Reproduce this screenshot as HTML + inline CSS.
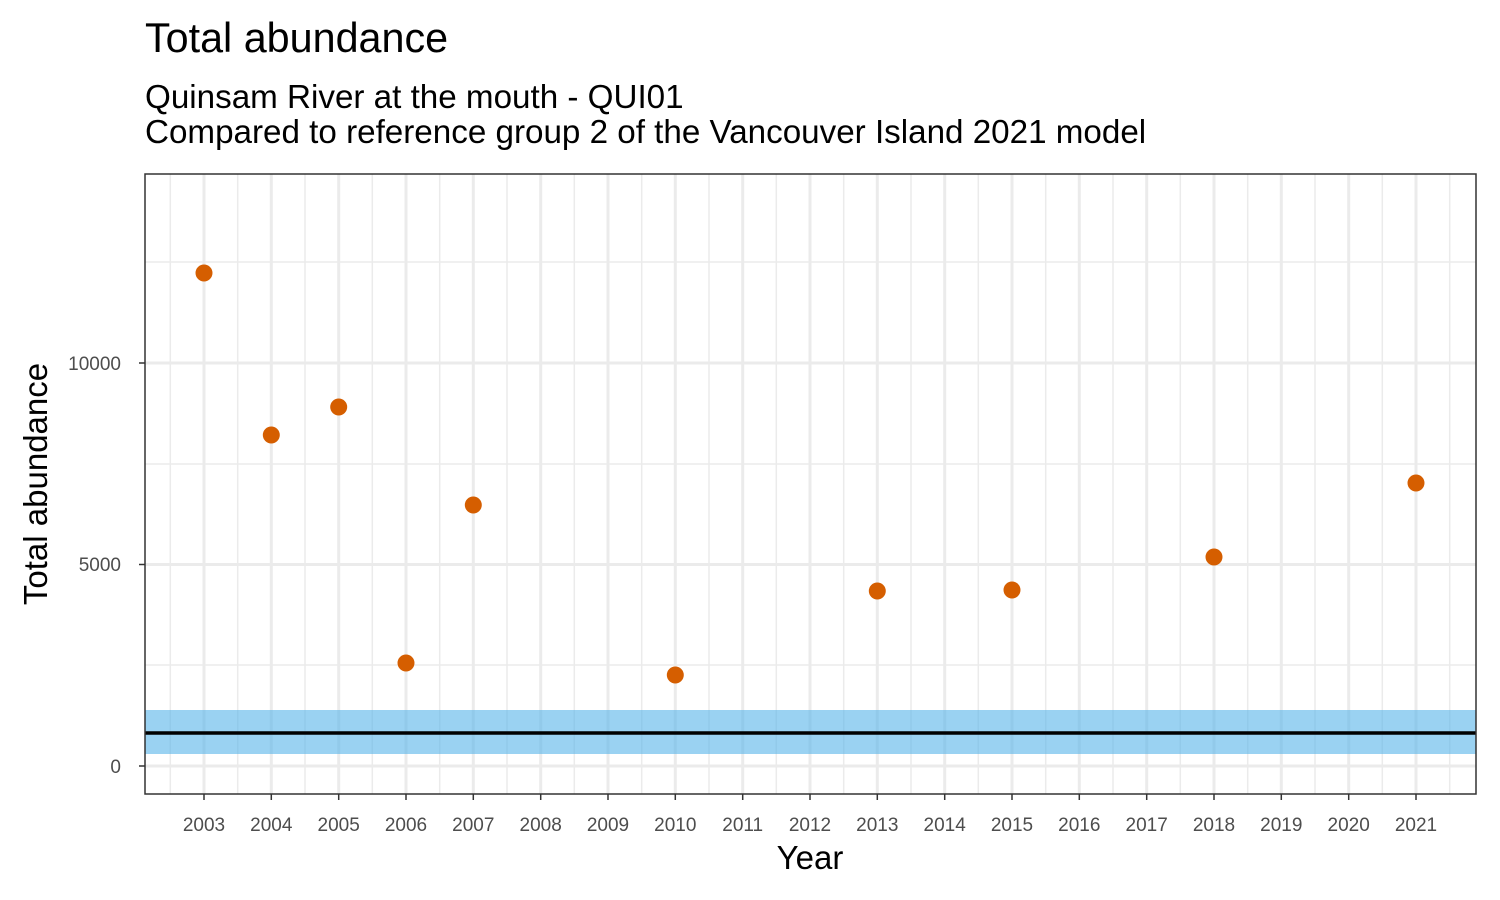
<!DOCTYPE html>
<html><head><meta charset="utf-8"><style>
body{margin:0;background:#fff;}
svg{display:block;font-family:"Liberation Sans",Arial,sans-serif;}
</style></head><body>
<svg width="1500" height="900" xmlns="http://www.w3.org/2000/svg">
<rect width="1500" height="900" fill="#fff"/>
<text x="145" y="52" font-size="41.3" fill="#000">Total abundance</text>
<text x="145" y="108" font-size="33.2" fill="#000">Quinsam River at the mouth - QUI01</text>
<text x="145" y="143" font-size="33.2" fill="#000">Compared to reference group 2 of the Vancouver Island 2021 model</text>
<g stroke="#ebebeb" stroke-width="1.5">
<line x1="145" x2="1476" y1="665" y2="665"/>
<line x1="145" x2="1476" y1="464" y2="464"/>
<line x1="145" x2="1476" y1="262" y2="262"/>
<line x1="170.3" x2="170.3" y1="174" y2="794"/><line x1="237.7" x2="237.7" y1="174" y2="794"/><line x1="305" x2="305" y1="174" y2="794"/><line x1="372.3" x2="372.3" y1="174" y2="794"/><line x1="439.7" x2="439.7" y1="174" y2="794"/><line x1="507" x2="507" y1="174" y2="794"/><line x1="574.3" x2="574.3" y1="174" y2="794"/><line x1="641.7" x2="641.7" y1="174" y2="794"/><line x1="709" x2="709" y1="174" y2="794"/><line x1="776.3" x2="776.3" y1="174" y2="794"/><line x1="843.7" x2="843.7" y1="174" y2="794"/><line x1="911" x2="911" y1="174" y2="794"/><line x1="978.3" x2="978.3" y1="174" y2="794"/><line x1="1045.7" x2="1045.7" y1="174" y2="794"/><line x1="1113" x2="1113" y1="174" y2="794"/><line x1="1180.3" x2="1180.3" y1="174" y2="794"/><line x1="1247.7" x2="1247.7" y1="174" y2="794"/><line x1="1315" x2="1315" y1="174" y2="794"/><line x1="1382.3" x2="1382.3" y1="174" y2="794"/><line x1="1449.7" x2="1449.7" y1="174" y2="794"/>
</g>
<g stroke="#ebebeb" stroke-width="3">
<line x1="145" x2="1476" y1="766" y2="766"/>
<line x1="145" x2="1476" y1="564.5" y2="564.5"/>
<line x1="145" x2="1476" y1="363" y2="363"/>
<line x1="204" x2="204" y1="174" y2="794"/><line x1="271.3" x2="271.3" y1="174" y2="794"/><line x1="338.7" x2="338.7" y1="174" y2="794"/><line x1="406" x2="406" y1="174" y2="794"/><line x1="473.3" x2="473.3" y1="174" y2="794"/><line x1="540.7" x2="540.7" y1="174" y2="794"/><line x1="608" x2="608" y1="174" y2="794"/><line x1="675.3" x2="675.3" y1="174" y2="794"/><line x1="742.7" x2="742.7" y1="174" y2="794"/><line x1="810" x2="810" y1="174" y2="794"/><line x1="877.3" x2="877.3" y1="174" y2="794"/><line x1="944.7" x2="944.7" y1="174" y2="794"/><line x1="1012" x2="1012" y1="174" y2="794"/><line x1="1079.3" x2="1079.3" y1="174" y2="794"/><line x1="1146.7" x2="1146.7" y1="174" y2="794"/><line x1="1214" x2="1214" y1="174" y2="794"/><line x1="1281.3" x2="1281.3" y1="174" y2="794"/><line x1="1348.7" x2="1348.7" y1="174" y2="794"/><line x1="1416" x2="1416" y1="174" y2="794"/>
</g>
<rect x="145" y="710" width="1331" height="44" fill="#56b4e9" fill-opacity="0.6"/>
<line x1="145" x2="1476" y1="733" y2="733" stroke="#000" stroke-width="3.5"/>
<g fill="#d55e00">
<circle cx="204" cy="273" r="8.5"/><circle cx="271.3" cy="435" r="8.5"/><circle cx="338.7" cy="407" r="8.5"/><circle cx="406" cy="663" r="8.5"/><circle cx="473.3" cy="505" r="8.5"/><circle cx="675.3" cy="675" r="8.5"/><circle cx="877.3" cy="591" r="8.5"/><circle cx="1012" cy="590" r="8.5"/><circle cx="1214" cy="557" r="8.5"/><circle cx="1416" cy="483" r="8.5"/>
</g>
<rect x="145" y="174" width="1331" height="620" fill="none" stroke="#333" stroke-width="1.5"/>
<g stroke="#333" stroke-width="1.5">
<line x1="139" x2="145" y1="766" y2="766"/><line x1="139" x2="145" y1="564.5" y2="564.5"/><line x1="139" x2="145" y1="363" y2="363"/>
</g>
<g font-size="19" fill="#4d4d4d" text-anchor="end">
<text x="121" y="773">0</text><text x="121" y="571">5000</text><text x="121" y="370">10000</text>
</g>
<g stroke="#333" stroke-width="1.5">
<line x1="204" x2="204" y1="794" y2="800"/><line x1="271.3" x2="271.3" y1="794" y2="800"/><line x1="338.7" x2="338.7" y1="794" y2="800"/><line x1="406" x2="406" y1="794" y2="800"/><line x1="473.3" x2="473.3" y1="794" y2="800"/><line x1="540.7" x2="540.7" y1="794" y2="800"/><line x1="608" x2="608" y1="794" y2="800"/><line x1="675.3" x2="675.3" y1="794" y2="800"/><line x1="742.7" x2="742.7" y1="794" y2="800"/><line x1="810" x2="810" y1="794" y2="800"/><line x1="877.3" x2="877.3" y1="794" y2="800"/><line x1="944.7" x2="944.7" y1="794" y2="800"/><line x1="1012" x2="1012" y1="794" y2="800"/><line x1="1079.3" x2="1079.3" y1="794" y2="800"/><line x1="1146.7" x2="1146.7" y1="794" y2="800"/><line x1="1214" x2="1214" y1="794" y2="800"/><line x1="1281.3" x2="1281.3" y1="794" y2="800"/><line x1="1348.7" x2="1348.7" y1="794" y2="800"/><line x1="1416" x2="1416" y1="794" y2="800"/>
</g>
<g font-size="19" fill="#4d4d4d" text-anchor="middle">
<text x="204" y="831">2003</text><text x="271.3" y="831">2004</text><text x="338.7" y="831">2005</text><text x="406" y="831">2006</text><text x="473.3" y="831">2007</text><text x="540.7" y="831">2008</text><text x="608" y="831">2009</text><text x="675.3" y="831">2010</text><text x="742.7" y="831">2011</text><text x="810" y="831">2012</text><text x="877.3" y="831">2013</text><text x="944.7" y="831">2014</text><text x="1012" y="831">2015</text><text x="1079.3" y="831">2016</text><text x="1146.7" y="831">2017</text><text x="1214" y="831">2018</text><text x="1281.3" y="831">2019</text><text x="1348.7" y="831">2020</text><text x="1416" y="831">2021</text>
</g>
<text x="810" y="869" font-size="33" text-anchor="middle" fill="#000">Year</text>
<text transform="translate(47,484) rotate(-90)" font-size="33" text-anchor="middle" fill="#000">Total abundance</text>
</svg>
</body></html>
